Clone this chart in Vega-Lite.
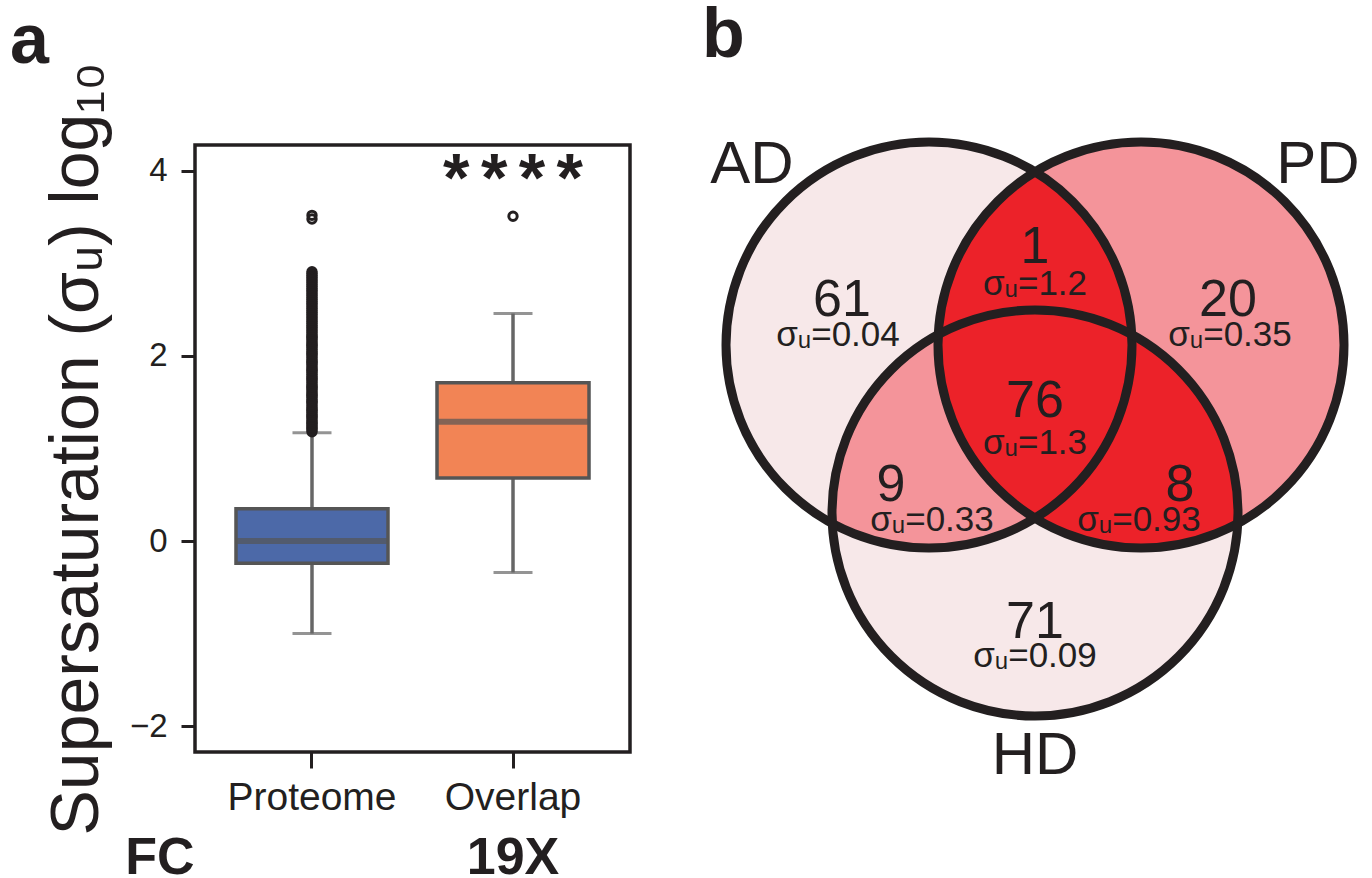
{
  "$schema": "https://vega.github.io/schema/vega-lite/v6.json",
  "background": "white",
  "padding": {"left": 8, "top": 0, "right": 0, "bottom": 0},
  "config": {"font": "Liberation Sans", "view": {"stroke": null}},
  "spacing": 72,
  "bounds": "flush",
  "resolve": {"scale": {"color": "independent", "shape": "independent"}},
  "hconcat": [
    {
      "width": 435,
      "height": 607,
      "view": {"stroke": "#231F20", "strokeWidth": 3.5},
      "title": {"text": "a", "anchor": "start", "frame": "group", "fontSize": 70, "fontWeight": "bold", "color": "#231F20", "dx": -185, "offset": -71.5, "baseline": "alphabetic"},
      "layer": [
        {
          "data": {"values": [
            {"cat": "Proteome", "lo": -1.0, "q1": -0.24, "med": 0.0, "q3": 0.35, "hi": 1.17},
            {"cat": "Overlap", "lo": -0.34, "q1": 0.68, "med": 1.29, "q3": 1.71, "hi": 2.46}
          ]},
          "mark": {"type": "rule", "color": "#666666", "strokeWidth": 3.5},
          "encoding": {
            "x": {"field": "cat", "type": "nominal", "sort": ["Proteome", "Overlap"], "scale": {"paddingInner": 0, "paddingOuter": 0.082},
              "axis": {"title": null, "labelAngle": 0, "domain": false, "tickSize": 16, "tickWidth": 3, "tickColor": "#231F20", "labelFontSize": 39, "labelColor": "#231F20", "labelPadding": 10, "labelFont": "Liberation Sans"}},
            "y": {"field": "lo", "type": "quantitative", "title": "Supersaturation (σᵤ) log₁₀", "scale": {"domain": [-2.28, 4.28], "nice": false, "zero": false},
              "axis": {"values": [-2, 0, 2, 4], "format": "d", "domain": false, "grid": false, "tickSize": 14, "tickWidth": 3, "tickColor": "#231F20", "labelFontSize": 33, "labelColor": "#231F20", "labelPadding": 14, "labelFont": "Liberation Sans", "titleFont": "Liberation Sans", "titleFontSize": 68, "titleFontWeight": "normal", "titleColor": "#231F20", "titlePadding": 18}},
            "y2": {"field": "hi"}
          }
        },
        {
          "data": {"values": [
            {"cat": "Proteome", "lo": -1.0, "hi": 1.17},
            {"cat": "Overlap", "lo": -0.34, "hi": 2.46}
          ]},
          "mark": {"type": "tick", "size": 39, "thickness": 3, "color": "#666666"},
          "encoding": {
            "x": {"field": "cat", "type": "nominal", "sort": ["Proteome", "Overlap"]},
            "y": {"field": "lo", "type": "quantitative", "title": "Supersaturation (σᵤ) log₁₀"}
          }
        },
        {
          "data": {"values": [
            {"cat": "Proteome", "lo": -1.0, "hi": 1.17},
            {"cat": "Overlap", "lo": -0.34, "hi": 2.46}
          ]},
          "mark": {"type": "tick", "size": 39, "thickness": 3, "color": "#666666"},
          "encoding": {
            "x": {"field": "cat", "type": "nominal", "sort": ["Proteome", "Overlap"]},
            "y": {"field": "hi", "type": "quantitative", "title": "Supersaturation (σᵤ) log₁₀"}
          }
        },
        {
          "data": {"values": [
            {"cat": "Proteome", "q1": -0.24, "q3": 0.35},
            {"cat": "Overlap", "q1": 0.68, "q3": 1.71}
          ]},
          "mark": {"type": "bar", "size": 152, "stroke": "#555555", "strokeWidth": 3.5},
          "encoding": {
            "x": {"field": "cat", "type": "nominal", "sort": ["Proteome", "Overlap"]},
            "y": {"field": "q1", "type": "quantitative", "title": "Supersaturation (σᵤ) log₁₀"},
            "y2": {"field": "q3"},
            "color": {"field": "cat", "type": "nominal", "scale": {"domain": ["Proteome", "Overlap"], "range": ["#4C69A8", "#F28455"]}, "legend": null}
          }
        },
        {
          "data": {"values": [
            {"cat": "Proteome", "med": 0.0},
            {"cat": "Overlap", "med": 1.29}
          ]},
          "mark": {"type": "tick", "size": 152, "thickness": 6, "color": "#555555"},
          "encoding": {
            "x": {"field": "cat", "type": "nominal", "sort": ["Proteome", "Overlap"]},
            "y": {"field": "med", "type": "quantitative", "title": "Supersaturation (σᵤ) log₁₀"}
          }
        },
        {
          "data": {"values": [
            {"cat": "Proteome", "v": 1.18}, {"cat": "Proteome", "v": 1.20}, {"cat": "Proteome", "v": 1.22}, {"cat": "Proteome", "v": 1.23},
            {"cat": "Proteome", "v": 1.25}, {"cat": "Proteome", "v": 1.27}, {"cat": "Proteome", "v": 1.28}, {"cat": "Proteome", "v": 1.30},
            {"cat": "Proteome", "v": 1.32}, {"cat": "Proteome", "v": 1.34}, {"cat": "Proteome", "v": 1.35}, {"cat": "Proteome", "v": 1.37},
            {"cat": "Proteome", "v": 1.39}, {"cat": "Proteome", "v": 1.41}, {"cat": "Proteome", "v": 1.42}, {"cat": "Proteome", "v": 1.44},
            {"cat": "Proteome", "v": 1.46}, {"cat": "Proteome", "v": 1.48}, {"cat": "Proteome", "v": 1.50}, {"cat": "Proteome", "v": 1.51},
            {"cat": "Proteome", "v": 1.53}, {"cat": "Proteome", "v": 1.55}, {"cat": "Proteome", "v": 1.57}, {"cat": "Proteome", "v": 1.58},
            {"cat": "Proteome", "v": 1.60}, {"cat": "Proteome", "v": 1.62}, {"cat": "Proteome", "v": 1.64}, {"cat": "Proteome", "v": 1.66},
            {"cat": "Proteome", "v": 1.67}, {"cat": "Proteome", "v": 1.69}, {"cat": "Proteome", "v": 1.71}, {"cat": "Proteome", "v": 1.73},
            {"cat": "Proteome", "v": 1.75}, {"cat": "Proteome", "v": 1.76}, {"cat": "Proteome", "v": 1.78}, {"cat": "Proteome", "v": 1.80},
            {"cat": "Proteome", "v": 1.82}, {"cat": "Proteome", "v": 1.84}, {"cat": "Proteome", "v": 1.85}, {"cat": "Proteome", "v": 1.87},
            {"cat": "Proteome", "v": 1.89}, {"cat": "Proteome", "v": 1.91}, {"cat": "Proteome", "v": 1.93}, {"cat": "Proteome", "v": 1.94},
            {"cat": "Proteome", "v": 1.96}, {"cat": "Proteome", "v": 1.98}, {"cat": "Proteome", "v": 2.00}, {"cat": "Proteome", "v": 2.02},
            {"cat": "Proteome", "v": 2.03}, {"cat": "Proteome", "v": 2.05}, {"cat": "Proteome", "v": 2.07}, {"cat": "Proteome", "v": 2.09},
            {"cat": "Proteome", "v": 2.11}, {"cat": "Proteome", "v": 2.12}, {"cat": "Proteome", "v": 2.14}, {"cat": "Proteome", "v": 2.16},
            {"cat": "Proteome", "v": 2.18}, {"cat": "Proteome", "v": 2.20}, {"cat": "Proteome", "v": 2.21}, {"cat": "Proteome", "v": 2.23},
            {"cat": "Proteome", "v": 2.25}, {"cat": "Proteome", "v": 2.27}, {"cat": "Proteome", "v": 2.29}, {"cat": "Proteome", "v": 2.31},
            {"cat": "Proteome", "v": 2.33}, {"cat": "Proteome", "v": 2.35}, {"cat": "Proteome", "v": 2.37}, {"cat": "Proteome", "v": 2.39},
            {"cat": "Proteome", "v": 2.41}, {"cat": "Proteome", "v": 2.43}, {"cat": "Proteome", "v": 2.45}, {"cat": "Proteome", "v": 2.47},
            {"cat": "Proteome", "v": 2.49}, {"cat": "Proteome", "v": 2.51}, {"cat": "Proteome", "v": 2.53}, {"cat": "Proteome", "v": 2.55},
            {"cat": "Proteome", "v": 2.57}, {"cat": "Proteome", "v": 2.59}, {"cat": "Proteome", "v": 2.61}, {"cat": "Proteome", "v": 2.63},
            {"cat": "Proteome", "v": 2.65}, {"cat": "Proteome", "v": 2.67}, {"cat": "Proteome", "v": 2.69}, {"cat": "Proteome", "v": 2.71},
            {"cat": "Proteome", "v": 2.73}, {"cat": "Proteome", "v": 2.75}, {"cat": "Proteome", "v": 2.77}, {"cat": "Proteome", "v": 2.79},
            {"cat": "Proteome", "v": 2.81}, {"cat": "Proteome", "v": 2.83}, {"cat": "Proteome", "v": 2.85}, {"cat": "Proteome", "v": 2.87},
            {"cat": "Proteome", "v": 2.89}, {"cat": "Proteome", "v": 2.91},
            {"cat": "Proteome", "v": 3.48}, {"cat": "Proteome", "v": 3.52},
            {"cat": "Overlap", "v": 3.51}
          ]},
          "mark": {"type": "point", "filled": false, "stroke": "#231F20", "strokeWidth": 3, "size": 70, "opacity": 1},
          "encoding": {
            "x": {"field": "cat", "type": "nominal", "sort": ["Proteome", "Overlap"]},
            "y": {"field": "v", "type": "quantitative", "title": "Supersaturation (σᵤ) log₁₀"}
          }
        },
        {
          "data": {"values": [{"cat": "Overlap", "v": 3.89, "label": "*\u2006*\u2006*\u2006*"}]},
          "mark": {"type": "text", "fontSize": 68, "fontWeight": "bold", "color": "#231F20", "baseline": "middle", "align": "center"},
          "encoding": {
            "x": {"field": "cat", "type": "nominal", "sort": ["Proteome", "Overlap"]},
            "y": {"field": "v", "type": "quantitative", "title": "Supersaturation (σᵤ) log₁₀"},
            "text": {"field": "label"}
          }
        },
        {
          "data": {"values": [{"cat": "Proteome", "v": -3.43, "label": "FC"}]},
          "mark": {"type": "text", "fontSize": 52, "fontWeight": "bold", "color": "#231F20", "baseline": "middle", "align": "center", "dx": -152},
          "encoding": {
            "x": {"field": "cat", "type": "nominal", "sort": ["Proteome", "Overlap"]},
            "y": {"field": "v", "type": "quantitative", "title": "Supersaturation (σᵤ) log₁₀"},
            "text": {"field": "label"}
          }
        },
        {
          "data": {"values": [{"cat": "Overlap", "v": -3.43, "label": "19X"}]},
          "mark": {"type": "text", "fontSize": 52, "fontWeight": "bold", "color": "#231F20", "baseline": "middle", "align": "center"},
          "encoding": {
            "x": {"field": "cat", "type": "nominal", "sort": ["Proteome", "Overlap"]},
            "y": {"field": "v", "type": "quantitative", "title": "Supersaturation (σᵤ) log₁₀"},
            "text": {"field": "label"}
          }
        }
      ]
    },
    {
      "width": 672,
      "height": 607,
      "view": {"stroke": null},
      "title": {"text": "b", "anchor": "start", "frame": "group", "fontSize": 70, "fontWeight": "bold", "color": "#231F20", "dx": 0, "offset": -2.5, "baseline": "alphabetic"},
      "layer": [
        {
          "data": {"values": [
            {"set": "AD", "cx": -106, "cy": 57},
            {"set": "PD", "cx": 106, "cy": 57},
            {"set": "HD", "cx": 0, "cy": -111}
          ]},
          "mark": {"type": "point", "shape": "circle", "filled": true, "size": 164836, "opacity": 1, "strokeWidth": 0},
          "encoding": {
            "x": {"field": "cx", "type": "quantitative", "scale": {"domain": [-333, 339], "nice": false, "zero": false}, "axis": null},
            "y": {"field": "cy", "type": "quantitative", "scale": {"domain": [-350, 257], "nice": false, "zero": false}, "axis": null},
            "color": {"field": "set", "type": "nominal", "scale": {"domain": ["AD", "PD", "HD", "AD and HD", "PD with AD or HD"], "range": ["#F7E8E9", "#F4949A", "#F7E8E9", "#F4949A", "#EC2229"]}, "legend": null}
          }
        },
        {
          "data": {"values": [
            {"set": "AD and HD", "cx": 0, "cy": 0},
            {"set": "PD with AD or HD", "cx": 0, "cy": 0}
          ]},
          "mark": {"type": "point", "filled": true, "size": 4, "opacity": 1, "strokeWidth": 0},
          "encoding": {
            "x": {"field": "cx", "type": "quantitative", "scale": {"domain": [-333, 339], "nice": false, "zero": false}, "axis": null},
            "y": {"field": "cy", "type": "quantitative", "scale": {"domain": [-350, 257], "nice": false, "zero": false}, "axis": null},
            "shape": {"field": "set", "type": "nominal", "scale": {"domain": ["AD and HD", "PD with AD or HD"], "range": [
              "M -202.72 121.47 A 203 203 0 0 0 96.72 -67.47 A 203 203 0 0 0 -202.72 121.47 Z",
              "M 0 -230.13 A 203 203 0 0 1 96.72 -67.47 A 203 203 0 0 1 202.72 121.47 A 203 203 0 0 1 0 -230.13 Z"
            ]}, "legend": null},
            "color": {"field": "set", "type": "nominal", "scale": {"domain": ["AD", "PD", "HD", "AD and HD", "PD with AD or HD"], "range": ["#F7E8E9", "#F4949A", "#F7E8E9", "#F4949A", "#EC2229"]}, "legend": null}
          }
        },
        {
          "data": {"values": [
            {"set": "AD", "cx": -106, "cy": 57},
            {"set": "PD", "cx": 106, "cy": 57},
            {"set": "HD", "cx": 0, "cy": -111}
          ]},
          "mark": {"type": "point", "shape": "circle", "filled": false, "size": 164836, "opacity": 1, "stroke": "#231F20", "strokeWidth": 9},
          "encoding": {
            "x": {"field": "cx", "type": "quantitative", "scale": {"domain": [-333, 339], "nice": false, "zero": false}, "axis": null},
            "y": {"field": "cy", "type": "quantitative", "scale": {"domain": [-350, 257], "nice": false, "zero": false}, "axis": null}
          }
        },
        {
          "data": {"values": [
            {"label": "AD", "tx": -283, "ty": 237},
            {"label": "PD", "tx": 283, "ty": 237},
            {"label": "HD", "tx": 0, "ty": -354}
          ]},
          "mark": {"type": "text", "fontSize": 60, "color": "#231F20", "baseline": "middle", "align": "center"},
          "encoding": {
            "x": {"field": "tx", "type": "quantitative", "scale": {"domain": [-333, 339], "nice": false, "zero": false}, "axis": null},
            "y": {"field": "ty", "type": "quantitative", "scale": {"domain": [-350, 257], "nice": false, "zero": false}, "axis": null},
            "text": {"field": "label"}
          }
        },
        {
          "data": {"values": [
            {"label": "61", "tx": -193, "ty": 102},
            {"label": "1", "tx": 0, "ty": 155},
            {"label": "20", "tx": 193, "ty": 102},
            {"label": "76", "tx": 0, "ty": 1},
            {"label": "9", "tx": -144, "ty": -83},
            {"label": "8", "tx": 145, "ty": -83},
            {"label": "71", "tx": 0, "ty": -220}
          ]},
          "mark": {"type": "text", "fontSize": 52, "color": "#231F20", "baseline": "middle", "align": "center"},
          "encoding": {
            "x": {"field": "tx", "type": "quantitative", "scale": {"domain": [-333, 339], "nice": false, "zero": false}, "axis": null},
            "y": {"field": "ty", "type": "quantitative", "scale": {"domain": [-350, 257], "nice": false, "zero": false}, "axis": null},
            "text": {"field": "label"}
          }
        },
        {
          "data": {"values": [
            {"label": "σᵤ=0.04", "tx": -197, "ty": 67},
            {"label": "σᵤ=1.2", "tx": 0, "ty": 118},
            {"label": "σᵤ=0.35", "tx": 195, "ty": 67},
            {"label": "σᵤ=1.3", "tx": 0, "ty": -41},
            {"label": "σᵤ=0.33", "tx": -103, "ty": -118},
            {"label": "σᵤ=0.93", "tx": 104, "ty": -118},
            {"label": "σᵤ=0.09", "tx": 0, "ty": -254}
          ]},
          "mark": {"type": "text", "fontSize": 35, "color": "#231F20", "baseline": "middle", "align": "center"},
          "encoding": {
            "x": {"field": "tx", "type": "quantitative", "scale": {"domain": [-333, 339], "nice": false, "zero": false}, "axis": null},
            "y": {"field": "ty", "type": "quantitative", "scale": {"domain": [-350, 257], "nice": false, "zero": false}, "axis": null},
            "text": {"field": "label"}
          }
        }
      ]
    }
  ]
}
